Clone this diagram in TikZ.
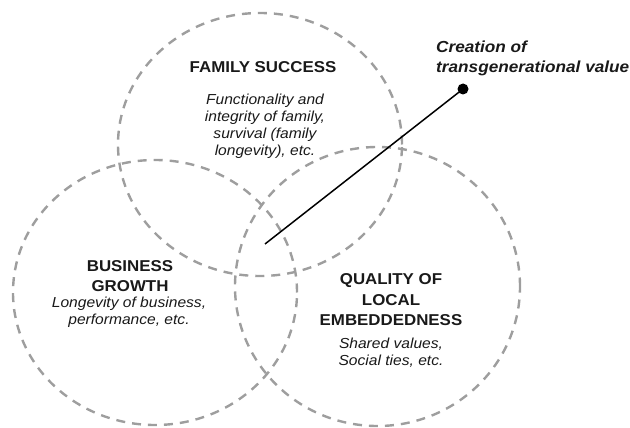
\documentclass[tikz,border=0pt]{standalone}
\usepackage{fontspec}
\newfontfamily\labfont{Liberation Sans}[FakeStretch=1.075]
\usetikzlibrary{shapes.geometric}

\tikzset{
  ring/.style={ellipse, draw=black!38, line width=2.4pt, dash pattern=on 9pt off 7pt,
               inner sep=0pt, outer sep=0pt},
  head/.style={align=center, inner sep=0pt, text=black!90,
               font=\labfont\bfseries\fontsize{15.7}{20}\selectfont},
  body/.style={align=center, inner sep=0pt, text=black!90,
               font=\labfont\itshape\fontsize{14.5}{17}\selectfont},
  callout/.style={align=left, inner sep=0pt, text=black!90,
                  font=\labfont\bfseries\itshape\fontsize{16}{20}\selectfont},
  dot/.style={circle, fill=black, inner sep=0pt, minimum size=11pt},
  link/.style={line width=1.5pt, black}
}

\begin{document}
\begin{tikzpicture}[x=1pt, y=-1pt]
  \useasboundingbox (0,0) rectangle (630,428);

  % the three overlapping dimensions
  \node[ring, minimum width=284pt, minimum height=263pt] (fam)  at (260,144.5) {};
  \node[ring, minimum width=284pt, minimum height=265pt] (bus)  at (155,292.5) {};
  \node[ring, minimum width=285pt, minimum height=279pt] (qual) at (377.5,286.5) {};

  % family success
  \node[head] (famhead) at (263,67) {FAMILY SUCCESS};
  \node[body] (fambody) at (265,126.5) {Functionality and\\integrity of family,\\survival (family\\longevity), etc.};

  % business growth
  \node[head] (bushead) at (130,276.5) {BUSINESS\\GROWTH};
  \node[body] (busbody) at (129,312.5) {Longevity of business,\\performance, etc.};

  % local embeddedness
  \node[head, text depth=0pt] (qualhead) at (391,300) {QUALITY OF\\[1pt]LOCAL\\EMBEDDEDNESS};
  \node[body] (qualbody) at (391,353) {Shared values,\\Social ties, etc.};

  % transgenerational value
  \coordinate (core) at (265,244);
  \node[dot] (val) at (463,89) {};
  \draw[link] (core) -- (val.center);
  \node[callout, anchor=west] (vallabel) at (436,58) {Creation of\\transgenerational value};
\end{tikzpicture}
\end{document}
